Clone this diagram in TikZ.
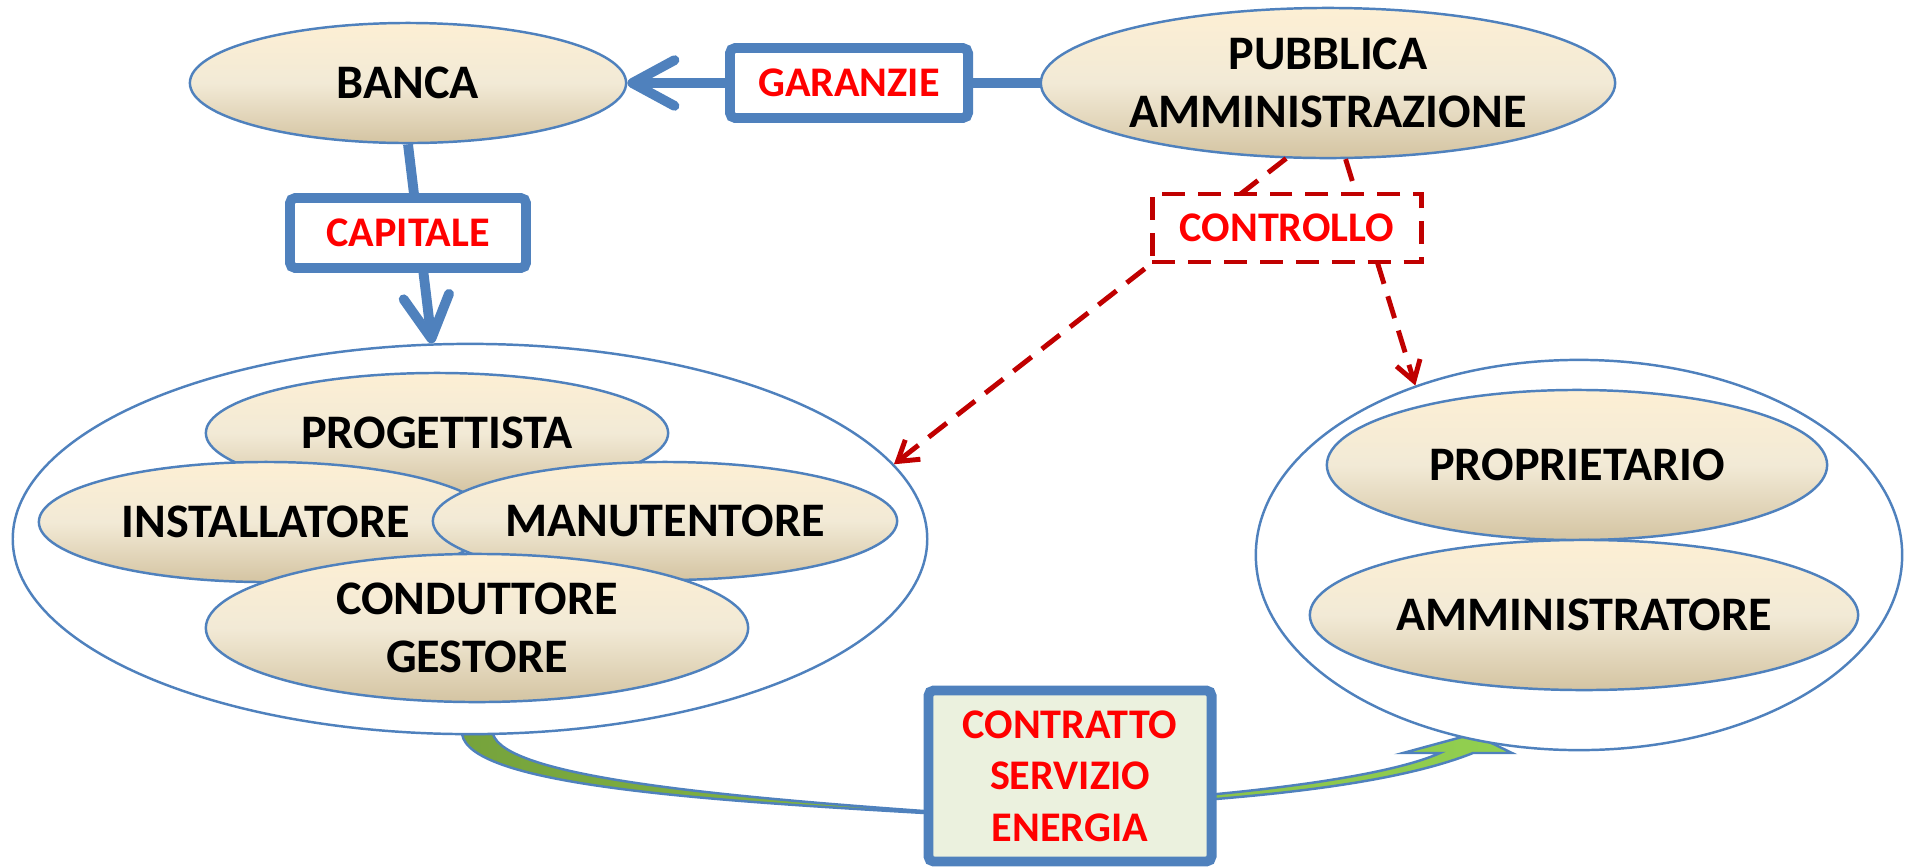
\documentclass[tikz,border=0pt]{standalone}
\usepackage{fontspec}
\setmainfont{Carlito}
\usetikzlibrary{arrows.meta}
\usetikzlibrary{shapes}
\definecolor{LineBlue}{RGB}{79,129,189}
\definecolor{CreamTop}{RGB}{253,239,212}
\definecolor{CreamMid}{RGB}{242,234,214}
\definecolor{CreamBot}{RGB}{212,196,162}
\definecolor{CtrlRed}{RGB}{192,0,0}
\definecolor{ContractFill}{RGB}{235,241,222}
\definecolor{DarkGreen}{RGB}{118,163,60}
\definecolor{LightGreen}{RGB}{146,208,80}
\tikzstyle{RoleNode}=[ellipse, draw=LineBlue, line width=0.7pt, top color=CreamTop, bottom color=CreamBot, middle color=CreamMid, inner sep=0pt, align=center, font=\fontsize{13.7}{16.5}\selectfont\bfseries]
\tikzstyle{GroupNode}=[ellipse, draw=LineBlue, line width=0.7pt, fill=white, inner sep=0pt]
\tikzstyle{FlowBox}=[rectangle, draw=LineBlue, line width=2.8pt, fill=white, rounded corners=1.5pt, inner sep=0pt, text=red, font=\fontsize{12}{15}\selectfont\bfseries]
\tikzstyle{ControlBox}=[rectangle, draw=CtrlRed, line width=1.4pt, dash pattern=on 6.5pt off 3.7pt, fill=white, inner sep=0pt, text=red, font=\fontsize{12}{15}\selectfont\bfseries]
\tikzstyle{ContractBox}=[FlowBox, fill=ContractFill, align=center, font=\fontsize{12}{14.7}\selectfont\bfseries]
\tikzstyle{FlowEdge}=[-{Straight Barb[length=12pt,width=13pt,round]}, line width=2.8pt, draw=LineBlue]
\tikzstyle{ControlEdge}=[-{Straight Barb[length=5.5pt,width=7pt]}, line width=1.4pt, draw=CtrlRed, dash pattern=on 6.5pt off 3.7pt]
\tikzstyle{ContractArrow}=[draw=LineBlue, line width=0.7pt, left color=DarkGreen, right color=LightGreen]

\begin{document}
\begin{tikzpicture}[x=0.01cm, y=-0.01cm]
\useasboundingbox (0,0) rectangle (1905,866);
\path[ContractArrow] (462,734) .. controls (470,785) and (700,800) .. (924,813) .. controls (1200,806) and (1380,790) .. (1473,753) -- (1512,753) -- (1473,734) -- (1403,753) -- (1440,753) .. controls (1380,780) and (1200,803) .. (924,811) .. controls (700,795) and (505,775) .. (493,734) -- cycle;

\node[GroupNode, minimum width=9.14cm, minimum height=3.9cm](Esco) at (470,539) {};
\node[GroupNode, minimum width=6.46cm, minimum height=3.9cm](Utenza) at (1579,555) {};
\node[RoleNode, minimum width=4.36cm, minimum height=1.2cm](Banca) at (408,83) {BANCA};
\node[RoleNode, minimum width=5.74cm, minimum height=1.5cm](PA) at (1328,83) {PUBBLICA\\AMMINISTRAZIONE};
\node[RoleNode, minimum width=4.62cm, minimum height=1.2cm](Progettista) at (437,433) {PROGETTISTA};
\node[RoleNode, minimum width=4.54cm, minimum height=1.2cm](Installatore) at (266,522) {INSTALLATORE};
\node[RoleNode, minimum width=4.64cm, minimum height=1.18cm](Manutentore) at (665,521) {MANUTENTORE};
\node[RoleNode, minimum width=5.42cm, minimum height=1.48cm](Conduttore) at (477,628) {CONDUTTORE\\GESTORE};
\node[RoleNode, minimum width=5cm, minimum height=1.5cm](Proprietario) at (1577,465) {PROPRIETARIO};
\node[RoleNode, minimum width=5.48cm, minimum height=1.5cm](Amministratore) at (1584,615) {AMMINISTRATORE};

\draw[FlowEdge](PA) -- (Banca);
\draw[FlowEdge](Banca.south) -- (Esco.101);
\draw[ControlEdge](PA.241) -- (Esco.10);
\draw[ControlEdge](PA.283) -- (Utenza.134);

\node[FlowBox, minimum width=2.38cm, minimum height=0.7cm](Garanzie) at (849,83) {GARANZIE};
\node[FlowBox, minimum width=2.36cm, minimum height=0.7cm](Capitale) at (408,233) {CAPITALE};
\node[ControlBox, minimum width=2.69cm, minimum height=0.68cm](Controllo) at (1287,228) {CONTROLLO};
\node[ContractBox, minimum width=2.83cm, minimum height=1.71cm](Contratto) at (1070,776) {CONTRATTO\\SERVIZIO\\ENERGIA};
\end{tikzpicture}
\end{document}
